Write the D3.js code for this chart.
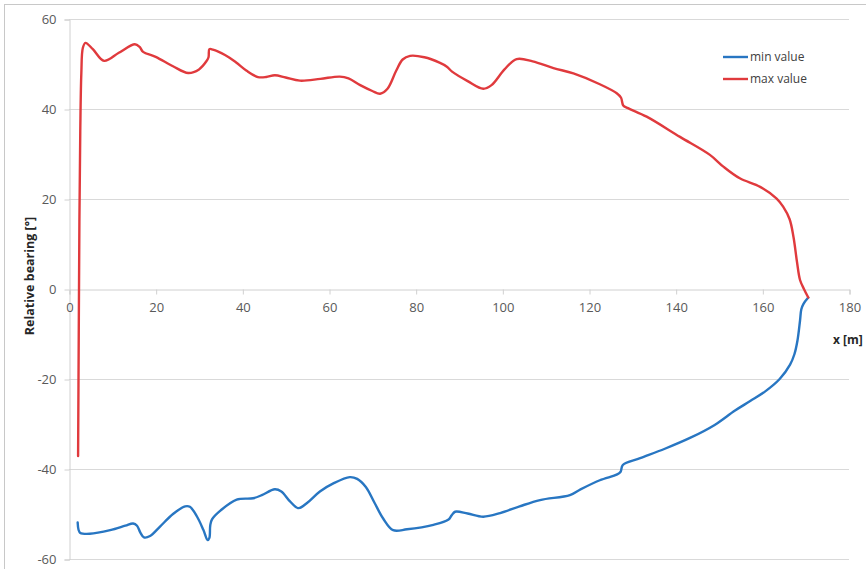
<!DOCTYPE html>
<html>
<head>
<meta charset="utf-8">
<script src="https://cdn.jsdelivr.net/npm/d3@7"></script>
<style>
  html, body { margin: 0; padding: 0; background: #fff; }
  svg { display: block; font-family: "Open Sans", "Liberation Sans", sans-serif; }
</style>
</head>
<body>
<svg id="chart" width="866" height="569"></svg>
<script>
// Relative bearing envelope along the track
const xTicks = [0, 20, 40, 60, 80, 100, 120, 140, 160, 180];
const yTicks = [-60, -40, -20, 0, 20, 40, 60];

const seriesNames = ["min value", "max value"];

const minX = [2.0, 2.2, 2.6, 4.8, 9.5, 13, 14.8, 15.7, 16.5, 17.3, 18.7, 21, 24, 26.8, 27.9, 29.5, 31, 32, 32.4, 32.6, 33, 35, 38.7, 42.5, 44.5, 47.5, 49, 51, 52.9, 55, 57.9, 61, 64.8, 66.5, 68.5, 70.5, 72.5, 74.8, 78, 84.1, 87.5, 88.3, 89.1, 92, 95.6, 99.5, 104, 108.7, 115.6, 117.9, 122.5, 126.5, 127.3, 127.8, 131.8, 137.5, 143.3, 149, 153.7, 157.2, 160.6, 164, 166.4, 167.4, 168.1, 168.7, 169, 169.5, 170.6];
const minY = [-51.9, -53.5, -54.2, -54.4, -53.6, -52.6, -52.1, -52.6, -54.2, -55.2, -54.9, -52.8, -50, -48.3, -48.4, -50.5, -53.5, -55.8, -55.3, -52.5, -51.2, -49.2, -46.8, -46.5, -45.8, -44.5, -45, -47.2, -48.7, -47.5, -45, -43.2, -41.8, -42.2, -44, -47.5, -51, -53.6, -53.4, -52.4, -51.3, -50.3, -49.5, -49.9, -50.6, -49.8, -48.3, -46.9, -45.8, -44.6, -42.5, -41.2, -40.6, -39.1, -37.6, -35.5, -33.1, -30.2, -27, -24.9, -22.8, -20, -16.8, -14.5, -11.5, -7, -4.5, -3.3, -1.9];

const maxX = [2.1, 2.25, 2.4, 2.6, 2.85, 3.2, 3.8, 5.5, 8.1, 11.5, 15.2, 16.3, 17.1, 20, 24, 27.5, 30, 31.7, 32.2, 32.4, 33.2, 36, 38.5, 41, 43.6, 45.5, 47.5, 50, 53.3, 58, 62.5, 64.5, 67.2, 70, 71.8, 73.5, 75.5, 77, 78.7, 82, 85.5, 87.2, 88.4, 92, 95.6, 97.5, 100.5, 103.3, 107, 111.8, 116.4, 122.5, 126.4, 127.4, 127.9, 129, 133.3, 141, 147.9, 151, 154.8, 159.5, 163.3, 164.8, 166.3, 167.2, 168, 168.7, 169.6, 170.6];
const maxY = [-37.1, -10, 15, 35, 48, 53.6, 54.7, 53.3, 50.7, 52.5, 54.4, 53.8, 52.7, 51.6, 49.5, 48.0, 48.8, 50.6, 51.5, 53.3, 53.2, 52, 50.4, 48.5, 47.1, 47.1, 47.5, 47, 46.3, 46.7, 47.2, 46.8, 45.3, 44, 43.4, 44.5, 48.5, 51, 51.8, 51.5, 50.3, 49.4, 48.3, 46.2, 44.5, 45.3, 48.8, 51.1, 50.6, 49.1, 47.9, 45.5, 43.5, 42.5, 40.8, 40.2, 38.3, 33.8, 29.8, 27.2, 24.6, 22.7, 20.1, 18.3, 15.5, 11.5, 6, 2, 0, -1.9];

const colors = { "min value": "#2876c2", "max value": "#e03a3d" };

const svg = d3.select("#chart");
const plot = { left: 69, right: 849, top: 19, bottom: 559 };

const x = d3.scaleLinear().domain([0, 180]).range([plot.left, plot.right]);
const y = d3.scaleLinear().domain([-60, 60]).range([plot.bottom, plot.top]);

// plain hyphen for negative tick labels
const fmt = d => String(d);

// chart area frame
svg.append("rect")
  .attr("x", 4.5).attr("y", 4.5)
  .attr("width", 900).attr("height", 600)
  .attr("fill", "none").attr("stroke", "#c8c8c8").attr("stroke-width", 1);

// horizontal gridlines
svg.append("g")
  .selectAll("line")
  .data(yTicks.filter(t => t !== 0))
  .join("line")
  .attr("x1", plot.left).attr("x2", plot.right)
  .attr("y1", d => Math.round(y(d)) + 0.5).attr("y2", d => Math.round(y(d)) + 0.5)
  .attr("stroke", "#d9d9d9").attr("stroke-width", 1);

// y axis
const yAxis = d3.axisLeft(y).tickValues(yTicks).tickFormat(fmt).tickSize(5).tickPadding(8);
const gy = svg.append("g").attr("transform", `translate(${plot.left + 0.5},0.5)`).call(yAxis);
gy.select(".domain").attr("stroke", "#d0d0d0");
gy.selectAll(".tick line").attr("stroke", "#d0d0d0");
gy.selectAll(".tick text").attr("fill", "#595959").style("font-size", "13px")
  .style("font-family", "'Open Sans', 'Liberation Sans', sans-serif");

// x axis crossing at zero
const xAxis = d3.axisBottom(x).tickValues(xTicks).tickFormat(fmt).tickSize(5).tickPadding(8);
const gx = svg.append("g").attr("transform", `translate(0.5,${Math.round(y(0)) + 0.5})`).call(xAxis);
gx.select(".domain").attr("stroke", "#d0d0d0");
gx.selectAll(".tick line").attr("stroke", "#d0d0d0");
gx.selectAll(".tick text").attr("fill", "#595959").style("font-size", "13px")
  .style("font-family", "'Open Sans', 'Liberation Sans', sans-serif");

// axis titles
svg.append("text")
  .attr("transform", `translate(34,276) rotate(-90)`)
  .attr("text-anchor", "middle")
  .attr("fill", "#262626")
  .style("font-size", "12.5px").style("font-weight", "bold")
  .text("Relative bearing [°]");

svg.append("text")
  .attr("x", 833).attr("y", 344)
  .attr("fill", "#262626")
  .style("font-size", "12px").style("font-weight", "bold")
  .text("x [m]");

// series lines
const series = [
  { name: "min value", pts: minX.map((v, i) => [v, minY[i]]) },
  { name: "max value", pts: maxX.map((v, i) => [v, maxY[i]]) }
];

const line = d3.line()
  .x(d => x(d[0]))
  .y(d => y(d[1]))
  .curve(d3.curveCatmullRom.alpha(0.5));

svg.append("g")
  .selectAll("path")
  .data(series)
  .join("path")
  .attr("d", d => line(d.pts))
  .attr("fill", "none")
  .attr("stroke", d => colors[d.name])
  .attr("stroke-width", 2.4)
  .attr("stroke-linejoin", "round")
  .attr("stroke-linecap", "round");

// legend
const legend = svg.append("g").attr("transform", "translate(723,57)");
const items = legend.selectAll("g").data(seriesNames).join("g")
  .attr("transform", (d, i) => `translate(0,${i * 22})`);
items.append("line")
  .attr("x1", 0).attr("x2", 25).attr("y1", 0).attr("y2", 0)
  .attr("stroke", d => colors[d]).attr("stroke-width", 2.4);
items.append("text")
  .attr("x", 27).attr("y", 0).attr("dy", "0.35em")
  .attr("fill", "#404040")
  .style("font-size", "12px")
  .text(d => d);
</script>
</body>
</html>
